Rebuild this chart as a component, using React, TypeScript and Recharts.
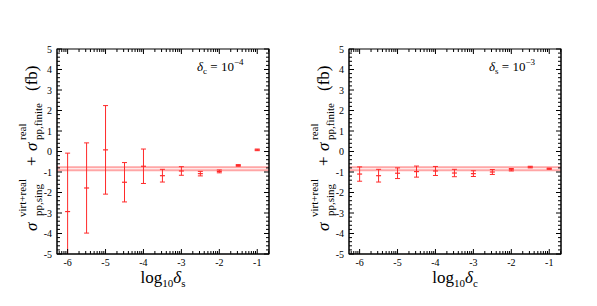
import { ComposedChart, ReferenceLine, Scatter, XAxis, YAxis } from 'recharts';

// log10 of the cut parameter that is varied
const logDelta = [-6, -5.5, -5, -4.5, -4, -3.5, -3, -2.5, -2, -1.5, -1];

// left panel: delta_c = 1e-4, delta_s varied
const sigmaVsDeltaS = [-2.93, -1.78, 0.08, -1.5, -0.72, -1.18, -0.95, -1.08, -0.97, -0.68, 0.08];
const errVsDeltaS = [2.85, 2.2, 2.16, 0.96, 0.84, 0.31, 0.21, 0.11, 0.07, 0.04, 0.04];

// right panel: delta_s = 1e-3, delta_c varied
const sigmaVsDeltaC = [-1.1, -1.18, -1.06, -0.98, -0.95, -1.05, -1.08, -1.0, -0.89, -0.76, -0.84];
const errVsDeltaC = [0.35, 0.31, 0.26, 0.27, 0.22, 0.18, 0.14, 0.12, 0.06, 0.04, 0.03];

// reference band (upper / lower edge)
const bandEdges = [-0.77, -0.92];

const xMajor = [-6, -5, -4, -3, -2, -1];
const yMajor = [-5, -4, -3, -2, -1, 0, 1, 2, 3, 4, 5];
const xDomain: [number, number] = [-6.28, -0.69];
const yDomain: [number, number] = [-5, 5];

// log-spaced minor ticks between decades, 0.2 steps on y
const xMinor: number[] = [];
for (let d = -7; d <= -1; d++) {
  for (let k = 2; k <= 9; k++) {
    const v = d + Math.log10(k);
    if (v > xDomain[0] && v < xDomain[1]) xMinor.push(v);
  }
}
const yMinor: number[] = [];
for (let i = -25; i <= 25; i++) if (i % 5 !== 0) yMinor.push(i / 5);

const xTicks = [...xMajor, ...xMinor].sort((a, b) => a - b);
const yTicks = [...yMajor, ...yMinor].sort((a, b) => a - b);

const RED = '#ff2a2a';
const FONT = '"Liberation Serif", "DejaVu Serif", serif';

// plot box, relative to each panel
const PLOT_TOP = 49;
const PLOT_BOTTOM = 254;
const PLOT_W = 212;

// x ticks: bottom (with label) and the mirrored top tick
function makeXTick() {
  return (props: any) => {
    const { x, payload } = props;
    const v = payload.value;
    const major = xMajor.includes(v);
    const len = major ? 5 : 3;
    return (
      <g>
        <line x1={x} x2={x} y1={PLOT_BOTTOM} y2={PLOT_BOTTOM - len} stroke="#000" />
        <line x1={x} x2={x} y1={PLOT_TOP} y2={PLOT_TOP + len} stroke="#000" />
        {major && (
          <text x={x} y={PLOT_BOTTOM + 12} textAnchor="middle" fontSize={10} fontFamily={FONT} fill="#000">
            {v}
          </text>
        )}
      </g>
    );
  };
}

// y ticks: left (with label) and the mirrored right tick
function makeYTick(plotLeft: number, plotRight: number) {
  return (props: any) => {
    const { y, payload } = props;
    const v = payload.value;
    const major = yMajor.includes(v);
    const len = major ? 5 : 3;
    return (
      <g>
        <line x1={plotLeft} x2={plotLeft + len} y1={y} y2={y} stroke="#000" />
        <line x1={plotRight} x2={plotRight - len} y1={y} y2={y} stroke="#000" />
        {major && (
          <text x={plotLeft - 5} y={y + 3.5} textAnchor="end" fontSize={10} fontFamily={FONT} fill="#000">
            {v}
          </text>
        )}
      </g>
    );
  };
}

const CenterMark = (props: any) => {
  const { cx, cy } = props;
  return <line x1={cx - 2.5} x2={cx + 2.5} y1={cy} y2={cy} stroke={RED} strokeWidth={1.2} />;
};

// end cap of an error bar (left out where the bar is cut by the frame)
const Cap = (props: any) => {
  const { cx, cy, payload } = props;
  if (payload.cut) return <g />;
  return <line x1={cx - 2.5} x2={cx + 2.5} y1={cy} y2={cy} stroke={RED} strokeWidth={1} />;
};

function YLabel({ base }: { base: number }) {
  const sup = base - 11;
  const sub = base + 5;
  return (
    <g transform="translate(0,232) rotate(-90)" fontFamily={FONT} fill="#000">
      <text x={1} y={base} fontSize={17} fontStyle="italic">σ</text>
      <text x={15} y={sup} fontSize={11}>virt+real</text>
      <text x={16} y={sub} fontSize={11}>pp,sing</text>
      <text x={66} y={base} fontSize={17}>+</text>
      <text x={81} y={base} fontSize={17} fontStyle="italic">σ</text>
      <text x={92} y={sup} fontSize={11}>real</text>
      <text x={92} y={sub} fontSize={11}>pp,finite</text>
      <text x={141} y={base} fontSize={17}>(fb)</text>
    </g>
  );
}

function Panel({
  left,
  width,
  plotLeft,
  sigma,
  err,
  xSub,
  note,
  noteX,
}: {
  left: number;
  width: number;
  plotLeft: number;
  sigma: number[];
  err: number[];
  xSub: string;
  note: { sub: string; exp: string };
  noteX: number;
}) {
  const data = logDelta.map((x, i) => ({ x, y: sigma[i] }));
  // each error bar as a two-point segment; the lower end is cut at the frame
  const bars = logDelta.map((x, i) => {
    const low = sigma[i] - err[i];
    return [
      { x, y: Math.max(low, yDomain[0]), cut: low < yDomain[0] },
      { x, y: Math.min(sigma[i] + err[i], yDomain[1]), cut: false },
    ];
  });
  const plotRight = plotLeft + PLOT_W;
  const cx = (plotLeft + plotRight) / 2;
  return (
    <div style={{ position: 'absolute', left, top: 0, width, height: 306 }}>
      <ComposedChart
        width={width}
        height={306}
        data={data}
        margin={{
          top: PLOT_TOP,
          bottom: 306 - PLOT_BOTTOM - 1,
          left: plotLeft - 1,
          right: width - plotRight - 1,
        }}
      >
        <XAxis
          dataKey="x"
          type="number"
          domain={xDomain}
          allowDataOverflow
          ticks={xTicks}
          interval={0}
          height={1}
          tickSize={0}
          tickMargin={0}
          tickLine={false}
          tick={makeXTick()}
          axisLine={{ stroke: '#000' }}
        />
        <YAxis
          yAxisId="l"
          type="number"
          domain={yDomain}
          allowDataOverflow
          ticks={yTicks}
          interval={0}
          width={1}
          tickSize={0}
          tickMargin={0}
          tickLine={false}
          tick={makeYTick(plotLeft, plotRight)}
          axisLine={{ stroke: '#000' }}
        />
        <YAxis
          yAxisId="r"
          orientation="right"
          type="number"
          domain={yDomain}
          width={1}
          tick={false}
          tickLine={false}
          axisLine={{ stroke: '#000' }}
        />
        {bandEdges.map((b) => (
          <ReferenceLine key={b} yAxisId="l" y={b} stroke="#ff8080" strokeOpacity={0.7} strokeWidth={2} />
        ))}
        {bars.map((bar, i) => (
          <Scatter
            key={`bar-${i}`}
            yAxisId="l"
            data={bar}
            dataKey="y"
            line={{ stroke: RED, strokeWidth: 1 }}
            shape={<Cap />}
            isAnimationActive={false}
          />
        ))}
        <Scatter
          yAxisId="l"
          data={data}
          dataKey="y"
          fill={RED}
          shape={<CenterMark />}
          isAnimationActive={false}
        />
      </ComposedChart>
      <svg
        width={width}
        height={306}
        style={{ position: 'absolute', left: 0, top: 0, pointerEvents: 'none' }}
      >
        {/* frame of the plot box */}
        <rect
          x={plotLeft}
          y={PLOT_TOP}
          width={PLOT_W}
          height={PLOT_BOTTOM - PLOT_TOP}
          fill="none"
          stroke="#000"
        />
        <YLabel base={plotLeft - 20} />
        <text x={cx} y={283} textAnchor="middle" fontFamily={FONT} fontSize={17} fill="#000">
          log
          <tspan fontSize={11} dy={4}>10</tspan>
          <tspan fontStyle="italic" dy={-4}>δ</tspan>
          <tspan fontSize={11} dy={4}>{xSub}</tspan>
        </text>
        <text x={noteX} y={71} fontFamily={FONT} fontSize={13} fill="#000">
          <tspan fontStyle="italic">δ</tspan>
          <tspan fontSize={9} dy={3}>{note.sub}</tspan>
          <tspan dy={-3}> = 10</tspan>
          <tspan fontSize={9} dy={-6}>−{note.exp}</tspan>
        </text>
      </svg>
    </div>
  );
}

export default function App() {
  return (
    <div style={{ position: 'absolute', left: 0, top: 0, width: 597, height: 306, background: '#fff' }}>
      <Panel
        left={0}
        width={300}
        plotLeft={57}
        sigma={sigmaVsDeltaS}
        err={errVsDeltaS}
        xSub="s"
        note={{ sub: 'c', exp: '4' }}
        noteX={197}
      />
      <Panel
        left={300}
        width={297}
        plotLeft={49}
        sigma={sigmaVsDeltaC}
        err={errVsDeltaC}
        xSub="c"
        note={{ sub: 's', exp: '3' }}
        noteX={189}
      />
    </div>
  );
}
